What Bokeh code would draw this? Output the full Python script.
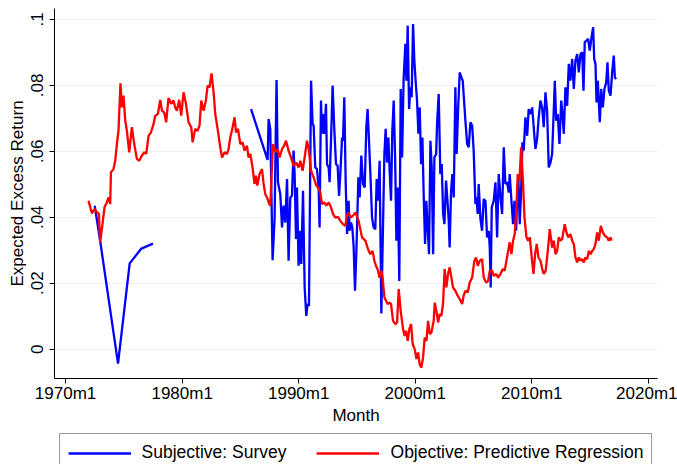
from bokeh.plotting import figure
from bokeh.layouts import column
from bokeh.models import (Legend, LegendItem, Range1d, FixedTicker,
                          CustomJSTickFormatter)
from bokeh.embed import file_html
from bokeh.resources import INLINE

# Survey-based expected excess return: early annual readings, then the monthly series
survey_early_year = [1972.5, 1973.0, 1974.5, 1975.5, 1976.5, 1977.5]
survey_early_value = [0.0435, 0.0320, -0.0044, 0.0260, 0.0305, 0.0320]

survey_year = [
    1985.91, 1987.33, 1987.42, 1987.56, 1987.76, 1987.93, 1988.10, 1988.22, 1988.42, 1988.57,
    1988.70, 1988.85, 1989.00, 1989.13, 1989.28, 1989.42, 1989.56, 1989.65, 1989.77, 1989.85,
    1989.99, 1990.14, 1990.22, 1990.37, 1990.51, 1990.65, 1990.76, 1990.88, 1991.06, 1991.19,
    1991.28, 1991.42, 1991.57, 1991.71, 1991.79, 1991.91, 1992.00, 1992.09, 1992.20, 1992.34,
    1992.43, 1992.57, 1992.65, 1992.77, 1992.91, 1993.06, 1993.20, 1993.34, 1993.46, 1993.57,
    1993.72, 1993.80, 1993.91, 1994.03, 1994.15, 1994.28, 1994.37, 1994.49, 1994.60, 1994.71,
    1994.83, 1994.94, 1995.12, 1995.23, 1995.37, 1995.52, 1995.66, 1995.80, 1995.91, 1996.03,
    1996.15, 1996.29, 1996.43, 1996.57, 1996.69, 1996.81, 1996.94, 1997.09, 1997.24, 1997.35,
    1997.46, 1997.58, 1997.69, 1997.80, 1997.92, 1998.03, 1998.15, 1998.27, 1998.38, 1998.49,
    1998.63, 1998.75, 1998.87, 1999.00, 1999.15, 1999.24, 1999.35, 1999.47, 1999.58, 1999.69,
    1999.81, 1999.92, 2000.03, 2000.15, 2000.27, 2000.38, 2000.50, 2000.61, 2000.72, 2000.84,
    2000.95, 2001.06, 2001.18, 2001.30, 2001.41, 2001.53, 2001.64, 2001.79, 2001.87, 2002.01,
    2002.15, 2002.27, 2002.39, 2002.50, 2002.64, 2002.76, 2002.87, 2002.95, 2003.07, 2003.18,
    2003.30, 2003.44, 2003.55, 2003.67, 2003.81, 2003.96, 2004.07, 2004.30, 2004.45, 2004.58,
    2004.73, 2004.88, 2005.01, 2005.16, 2005.24, 2005.36, 2005.44, 2005.59, 2005.73, 2005.87,
    2006.02, 2006.16, 2006.30, 2006.39, 2006.47, 2006.56, 2006.73, 2006.88, 2007.02, 2007.16,
    2007.31, 2007.45, 2007.59, 2007.73, 2007.88, 2008.02, 2008.10, 2008.25, 2008.39, 2008.51,
    2008.65, 2008.74, 2008.85, 2008.96, 2009.08, 2009.19, 2009.30, 2009.45, 2009.60, 2009.73,
    2009.88, 2010.03, 2010.16, 2010.31, 2010.45, 2010.59, 2010.74, 2010.88, 2011.02, 2011.17,
    2011.31, 2011.45, 2011.60, 2011.74, 2011.88, 2011.97, 2012.09, 2012.22, 2012.37, 2012.52,
    2012.65, 2012.74, 2012.88, 2013.03, 2013.17, 2013.31, 2013.46, 2013.60, 2013.74, 2013.89,
    2014.03, 2014.17, 2014.32, 2014.43, 2014.54, 2014.69, 2014.83, 2014.97, 2015.12, 2015.26,
    2015.35, 2015.46, 2015.55, 2015.66, 2015.74, 2015.83, 2015.95, 2016.09, 2016.23, 2016.38,
    2016.49, 2016.60, 2016.75, 2016.89, 2017.03, 2017.12, 2017.24,
]
survey_value = [
    0.0728, 0.0574, 0.0698, 0.0668, 0.0270, 0.0395, 0.0816, 0.0506, 0.0470, 0.0369,
    0.0435, 0.0384, 0.0516, 0.0268, 0.0460, 0.0465, 0.0602, 0.0531, 0.0334, 0.0490,
    0.0253, 0.0359, 0.0258, 0.0480, 0.0187, 0.0101, 0.0137, 0.0131, 0.0814, 0.0683,
    0.0678, 0.0551, 0.0546, 0.0490, 0.0369, 0.0754, 0.0653, 0.0713, 0.0653, 0.0744,
    0.0561, 0.0551, 0.0506, 0.0632, 0.0799, 0.0662, 0.0561, 0.0556, 0.0465, 0.0531,
    0.0642, 0.0632, 0.0764, 0.0506, 0.0349, 0.0450, 0.0359, 0.0384, 0.0369, 0.0313,
    0.0177, 0.0288, 0.0521, 0.0460, 0.0587, 0.0501, 0.0490, 0.0673, 0.0728, 0.0632,
    0.0531, 0.0399, 0.0369, 0.0364, 0.0516, 0.0450, 0.0571, 0.0108, 0.0389, 0.0592,
    0.0668, 0.0566, 0.0642, 0.0541, 0.0450, 0.0662, 0.0754, 0.0581, 0.0329, 0.0490,
    0.0207, 0.0789, 0.0581, 0.0819, 0.0926, 0.0814, 0.0981, 0.0728, 0.0794, 0.0764,
    0.0986, 0.0875, 0.0814, 0.0754, 0.0653, 0.0733, 0.0561, 0.0642, 0.0470, 0.0319,
    0.0450, 0.0369, 0.0288, 0.0632, 0.0551, 0.0288, 0.0581, 0.0592, 0.0683, 0.0774,
    0.0531, 0.0561, 0.0410, 0.0379, 0.0511, 0.0450, 0.0389, 0.0308, 0.0480, 0.0531,
    0.0460, 0.0794, 0.0592, 0.0723, 0.0839, 0.0824, 0.0814, 0.0693, 0.0622, 0.0612,
    0.0688, 0.0678, 0.0602, 0.0440, 0.0460, 0.0410, 0.0501, 0.0395, 0.0359, 0.0455,
    0.0450, 0.0339, 0.0359, 0.0308, 0.0187, 0.0430, 0.0450, 0.0506, 0.0339, 0.0531,
    0.0460, 0.0410, 0.0612, 0.0501, 0.0506, 0.0475, 0.0531, 0.0450, 0.0379, 0.0450,
    0.0359, 0.0460, 0.0516, 0.0379, 0.0480, 0.0627, 0.0602, 0.0703, 0.0647, 0.0728,
    0.0713, 0.0733, 0.0673, 0.0607, 0.0637, 0.0703, 0.0754, 0.0733, 0.0673, 0.0779,
    0.0723, 0.0551, 0.0566, 0.0592, 0.0723, 0.0814, 0.0693, 0.0713, 0.0622, 0.0754,
    0.0703, 0.0653, 0.0794, 0.0738, 0.0865, 0.0814, 0.0880, 0.0789, 0.0875, 0.0895,
    0.0839, 0.0895, 0.0900, 0.0784, 0.0931, 0.0936, 0.0941, 0.0905, 0.0946, 0.0976,
    0.0880, 0.0865, 0.0748, 0.0814, 0.0754, 0.0688, 0.0789, 0.0733, 0.0789, 0.0809,
    0.0870, 0.0784, 0.0769, 0.0839, 0.0890, 0.0824, 0.0819,
]

# Objective expected excess return from the predictive regression
regression_year = [
    1971.97, 1972.26, 1972.48, 1972.69, 1972.86, 1972.97, 1973.17, 1973.34, 1973.54, 1973.68,
    1973.83, 1973.89, 1974.11, 1974.26, 1974.40, 1974.54, 1974.71, 1974.83, 1974.97, 1975.12,
    1975.26, 1975.46, 1975.69, 1975.89, 1976.12, 1976.32, 1976.55, 1976.75, 1976.92, 1977.12,
    1977.32, 1977.55, 1977.69, 1977.92, 1978.12, 1978.27, 1978.46, 1978.63, 1978.83, 1979.06,
    1979.26, 1979.41, 1979.55, 1979.75, 1979.92, 1980.12, 1980.33, 1980.55, 1980.78, 1980.90,
    1981.12, 1981.32, 1981.49, 1981.64, 1981.84, 1982.04, 1982.18, 1982.35, 1982.52, 1982.70,
    1982.84, 1983.07, 1983.27, 1983.42, 1983.64, 1983.85, 1983.98, 1984.13, 1984.33, 1984.50,
    1984.62, 1984.79, 1984.99, 1985.18, 1985.36, 1985.56, 1985.70, 1985.85, 1986.04, 1986.21,
    1986.33, 1986.45, 1986.64, 1986.85, 1986.99, 1987.13, 1987.28, 1987.48, 1987.56, 1987.79,
    1987.99, 1988.19, 1988.36, 1988.57, 1988.76, 1988.91, 1989.13, 1989.34, 1989.56, 1989.77,
    1989.99, 1990.14, 1990.33, 1990.51, 1990.71, 1990.88, 1991.06, 1991.28, 1991.51, 1991.66,
    1991.85, 1992.00, 1992.20, 1992.37, 1992.57, 1992.77, 1992.94, 1993.14, 1993.37, 1993.57,
    1993.80, 1994.00, 1994.15, 1994.28, 1994.43, 1994.66, 1994.86, 1995.14, 1995.43, 1995.72,
    1995.95, 1996.14, 1996.34, 1996.49, 1996.63, 1996.81, 1996.92, 1997.09, 1997.20, 1997.35,
    1997.49, 1997.63, 1997.78, 1997.92, 1998.09, 1998.29, 1998.44, 1998.58, 1998.75, 1998.95,
    1999.09, 1999.21, 1999.35, 1999.49, 1999.64, 1999.78, 1999.95, 2000.10, 2000.24, 2000.38,
    2000.52, 2000.67, 2000.81, 2000.96, 2001.10, 2001.24, 2001.38, 2001.58, 2001.67, 2001.81,
    2001.96, 2002.09, 2002.24, 2002.38, 2002.52, 2002.67, 2002.81, 2002.95, 2003.24, 2003.44,
    2003.64, 2003.81, 2004.02, 2004.15, 2004.30, 2004.50, 2004.67, 2004.88, 2005.07, 2005.22,
    2005.36, 2005.53, 2005.73, 2005.87, 2006.08, 2006.25, 2006.39, 2006.59, 2006.73, 2006.94,
    2007.11, 2007.31, 2007.50, 2007.67, 2007.82, 2007.97, 2008.10, 2008.25, 2008.39, 2008.53,
    2008.68, 2008.79, 2008.94, 2009.08, 2009.22, 2009.37, 2009.54, 2009.68, 2009.83, 2009.99,
    2010.14, 2010.28, 2010.42, 2010.57, 2010.74, 2010.89, 2011.02, 2011.19, 2011.37, 2011.54,
    2011.74, 2011.88, 2012.03, 2012.17, 2012.31, 2012.46, 2012.60, 2012.82, 2012.97, 2013.12,
    2013.31, 2013.46, 2013.60, 2013.74, 2013.89, 2014.03, 2014.17, 2014.32, 2014.46, 2014.60,
    2014.75, 2014.89, 2015.03, 2015.18, 2015.31, 2015.46, 2015.60, 2015.74, 2015.92, 2016.09,
    2016.26, 2016.46, 2016.60, 2016.75, 2016.83,
]
regression_value = [
    0.0450, 0.0412, 0.0425, 0.0415, 0.0410, 0.0324, 0.0380, 0.0430, 0.0445, 0.0460,
    0.0440, 0.0536, 0.0546, 0.0571, 0.0622, 0.0662, 0.0806, 0.0733, 0.0769, 0.0693,
    0.0662, 0.0597, 0.0673, 0.0622, 0.0577, 0.0571, 0.0587, 0.0597, 0.0592, 0.0647,
    0.0657, 0.0683, 0.0708, 0.0713, 0.0756, 0.0723, 0.0718, 0.0688, 0.0762, 0.0744,
    0.0754, 0.0733, 0.0723, 0.0756, 0.0708, 0.0779, 0.0744, 0.0688, 0.0673, 0.0627,
    0.0668, 0.0662, 0.0678, 0.0754, 0.0723, 0.0754, 0.0799, 0.0794, 0.0836, 0.0779,
    0.0713, 0.0662, 0.0612, 0.0581, 0.0597, 0.0592, 0.0607, 0.0642, 0.0673, 0.0703,
    0.0657, 0.0668, 0.0622, 0.0627, 0.0602, 0.0617, 0.0581, 0.0592, 0.0551, 0.0501,
    0.0526, 0.0496, 0.0531, 0.0546, 0.0501, 0.0470, 0.0460, 0.0440, 0.0435, 0.0622,
    0.0597, 0.0607, 0.0581, 0.0607, 0.0617, 0.0632, 0.0602, 0.0581, 0.0556, 0.0566,
    0.0551, 0.0571, 0.0541, 0.0581, 0.0632, 0.0602, 0.0541, 0.0521, 0.0496, 0.0490,
    0.0475, 0.0440, 0.0445, 0.0435, 0.0445, 0.0430, 0.0410, 0.0399, 0.0401, 0.0389,
    0.0379, 0.0374, 0.0405, 0.0415, 0.0399, 0.0405, 0.0415, 0.0389, 0.0339, 0.0329,
    0.0303, 0.0288, 0.0298, 0.0268, 0.0253, 0.0238, 0.0217, 0.0238, 0.0217, 0.0157,
    0.0147, 0.0137, 0.0141, 0.0137, 0.0086, 0.0076, 0.0081, 0.0182, 0.0116, 0.0061,
    0.0040, 0.0056, 0.0025, 0.0061, 0.0076, 0.0015, 0.0000, -0.0030, -0.0010, -0.0046,
    -0.0056, -0.0025, 0.0035, 0.0025, 0.0086, 0.0046, 0.0050, 0.0086, 0.0141, 0.0116,
    0.0081, 0.0106, 0.0101, 0.0137, 0.0243, 0.0187, 0.0228, 0.0248, 0.0187, 0.0177,
    0.0162, 0.0152, 0.0137, 0.0162, 0.0177, 0.0172, 0.0202, 0.0217, 0.0268, 0.0278,
    0.0253, 0.0268, 0.0273, 0.0217, 0.0202, 0.0207, 0.0238, 0.0238, 0.0222, 0.0228,
    0.0217, 0.0228, 0.0243, 0.0238, 0.0268, 0.0298, 0.0324, 0.0288, 0.0329, 0.0349,
    0.0430, 0.0531, 0.0511, 0.0612, 0.0521, 0.0399, 0.0339, 0.0329, 0.0339, 0.0278,
    0.0228, 0.0288, 0.0319, 0.0278, 0.0268, 0.0243, 0.0228, 0.0238, 0.0298, 0.0364,
    0.0308, 0.0329, 0.0288, 0.0298, 0.0339, 0.0329, 0.0334, 0.0379, 0.0354, 0.0339,
    0.0349, 0.0329, 0.0319, 0.0278, 0.0263, 0.0278, 0.0268, 0.0273, 0.0263, 0.0278,
    0.0273, 0.0298, 0.0288, 0.0298, 0.0303, 0.0319, 0.0354, 0.0329, 0.0374, 0.0354,
    0.0344, 0.0339, 0.0329, 0.0339, 0.0329,
]

series_labels = ["Subjective: Survey", "Objective: Predictive Regression"]

x_ticks = [1970, 1980, 1990, 2000, 2010, 2020]
x_tick_labels = ["1970m1", "1980m1", "1990m1", "2000m1", "2010m1", "2020m1"]
y_ticks = [0.0, 0.02, 0.04, 0.06, 0.08, 0.1]
y_tick_labels = ["0", ".02", ".04", ".06", ".08", ".1"]

FONT = "Liberation Sans"
BLUE = "#0000ff"
RED = "#ff0000"
LW = 2.3

# main chart: 54 + 603 + 20 = 677 wide, 8 + 370 + 55 = 433 tall
p = figure(
    frame_width=603, frame_height=370,
    x_range=Range1d(1969.05, 2020.78), y_range=Range1d(-0.0089, 0.1033),
    output_backend="svg", toolbar_location=None,
    min_border_left=54, min_border_right=20, min_border_top=8, min_border_bottom=55,
)
p.outline_line_color = None
p.background_fill_color = "white"
p.border_fill_color = "white"

p.xgrid.visible = False
p.ygrid.grid_line_color = "#eaf2f3"
p.ygrid.grid_line_width = 1.2

# map each tick position to its printed label
label_code = """
let best = 0, d = Infinity;
for (let i = 0; i < tick_values.length; i++) {
    const e = Math.abs(tick_values[i] - tick);
    if (e < d) { d = e; best = i; }
}
return tick_text[best];
"""

for ax, ticks, labels in ((p.xaxis[0], x_ticks, x_tick_labels), (p.yaxis[0], y_ticks, y_tick_labels)):
    ax.ticker = FixedTicker(ticks=ticks)
    ax.formatter = CustomJSTickFormatter(args=dict(tick_values=ticks, tick_text=labels), code=label_code)
    ax.minor_tick_line_color = None
    ax.major_tick_in = 0
    ax.major_tick_out = 5
    ax.major_tick_line_color = "#000000"
    ax.axis_line_color = "#000000"
    ax.axis_line_width = 1
    ax.major_label_text_font = FONT
    ax.major_label_text_font_size = "17px"
    ax.major_label_text_color = "#000000"
    ax.axis_label_text_font = FONT
    ax.axis_label_text_font_size = "17px"
    ax.axis_label_text_font_style = "normal"
    ax.axis_label_text_color = "#000000"

p.xaxis.axis_label = "Month"
p.xaxis.major_label_standoff = 0
p.xaxis.axis_label_standoff = 0
p.yaxis.axis_label = "Expected Excess Return"
p.yaxis.major_label_orientation = "vertical"
p.yaxis.major_label_standoff = 6
p.yaxis.axis_label_standoff = 2

p.line(survey_early_year, survey_early_value, line_color=BLUE, line_width=LW)
p.line(survey_year, survey_value, line_color=BLUE, line_width=LW)
p.line(regression_year, regression_value, line_color=RED, line_width=LW)

# legend strip underneath, same horizontal frame so the box centres under the plot;
# its key lines carry the series but sit outside this strip's visible value range
key = figure(
    frame_width=603, frame_height=31,
    x_range=Range1d(1969.05, 2020.78), y_range=Range1d(1.0, 2.0),
    x_axis_type=None, y_axis_type=None,
    output_backend="svg", toolbar_location=None,
    min_border_left=54, min_border_right=20, min_border_top=0, min_border_bottom=0,
)
key.outline_line_color = None
key.xgrid.visible = False
key.ygrid.visible = False
key.border_fill_color = "white"
key.background_fill_color = "white"
key_survey = key.line(survey_year, survey_value, line_color=BLUE, line_width=LW)
key_regression = key.line(regression_year, regression_value, line_color=RED, line_width=LW)

legend = Legend(
    items=[
        LegendItem(label=series_labels[0], renderers=[key_survey]),
        LegendItem(label=series_labels[1], renderers=[key_regression]),
    ],
    orientation="horizontal", location="top_center",
    glyph_width=63, glyph_height=20, label_height=20, label_standoff=11, spacing=30,
    padding=8, margin=0,
    border_line_color="#333333", border_line_width=1,
    label_text_font=FONT, label_text_font_size="17.5px", label_text_color="#000000",
    background_fill_color="white",
)
key.add_layout(legend, "center")

layout = column(p, key, spacing=0)
open("out.html", "w").write(file_html(layout, INLINE))
